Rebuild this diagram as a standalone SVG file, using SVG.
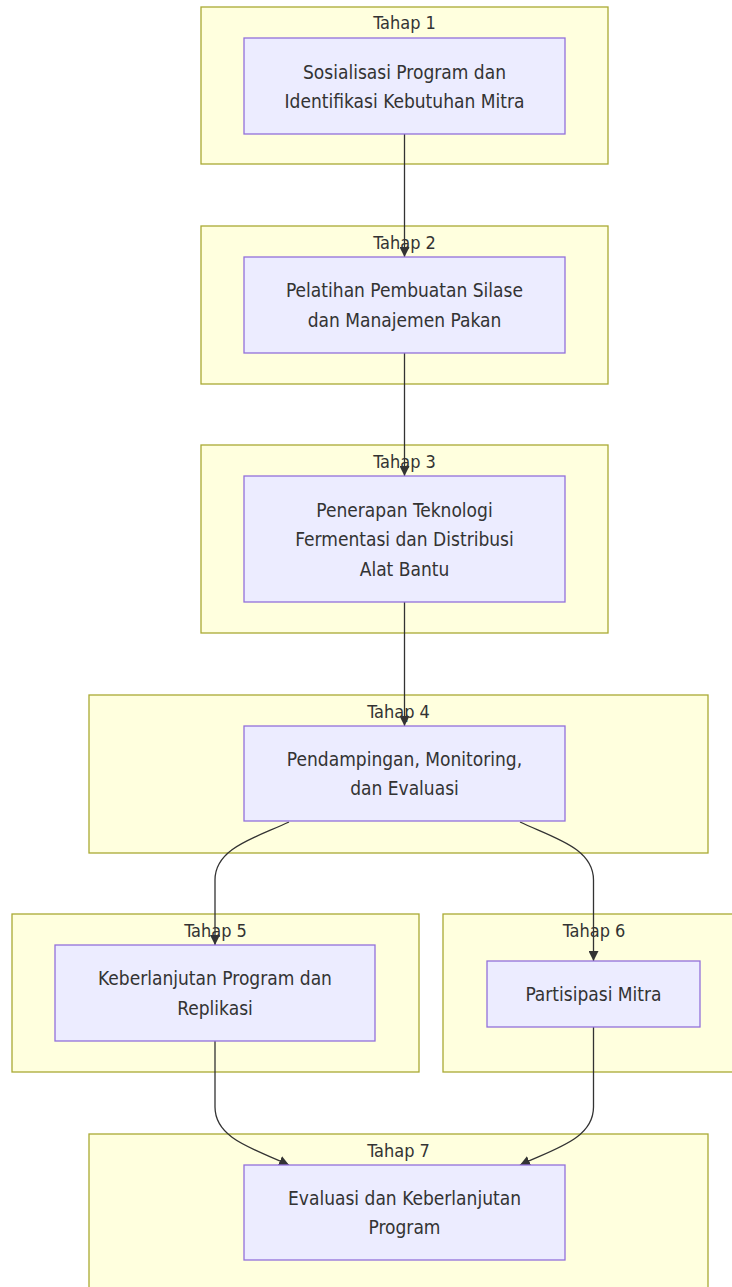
<svg xmlns="http://www.w3.org/2000/svg" width="732" height="1287" viewBox="0 0 732 1287">
<style>
.cluster rect{fill:#ffffde;stroke:#aaaa33;stroke-width:1.3}
.node rect{fill:#ececff;stroke:#9370db;stroke-width:1.3}
text{font-family:"DejaVu Sans Condensed","DejaVu Sans",sans-serif;fill:#333333;text-anchor:middle}
.ct{font-size:18px}
.nt{font-size:19px}
.edge{fill:none;stroke:#333333;stroke-width:1.3}
</style>
<defs>
<marker id="arrow" viewBox="0 0 10 10" refX="10" refY="5" markerUnits="userSpaceOnUse" markerWidth="10" markerHeight="10" orient="auto">
<path d="M0,0 L10,5 L0,10 z" fill="#333333"/>
</marker>
</defs>
<g id="clusters">
<g id="tahap1" class="cluster"><rect x="201" y="7" width="407" height="157"/><text class="ct" x="404.5" y="29">Tahap 1</text></g>
<g id="tahap2" class="cluster"><rect x="201" y="226" width="407" height="158"/><text class="ct" x="404.5" y="248.5">Tahap 2</text></g>
<g id="tahap3" class="cluster"><rect x="201" y="445" width="407" height="188"/><text class="ct" x="404.5" y="467.5">Tahap 3</text></g>
<g id="tahap4" class="cluster"><rect x="89" y="695" width="619" height="158"/><text class="ct" x="398.5" y="717.5">Tahap 4</text></g>
<g id="tahap5" class="cluster"><rect x="12" y="914" width="407" height="158"/><text class="ct" x="215.5" y="936.5">Tahap 5</text></g>
<g id="tahap6" class="cluster"><rect x="443" y="914" width="302" height="158"/><text class="ct" x="594" y="936.5">Tahap 6</text></g>
<g id="tahap7" class="cluster"><rect x="89" y="1134" width="619" height="160"/><text class="ct" x="398.5" y="1156.5">Tahap 7</text></g>
</g>
<g id="connectors">
<path class="edge" d="M404.5,134 L404.5,257" marker-end="url(#arrow)"/>
<path class="edge" d="M404.5,353 L404.5,476" marker-end="url(#arrow)"/>
<path class="edge" d="M404.5,602 L404.5,726" marker-end="url(#arrow)"/>
<path class="edge" d="M289,822 C255,838 215,848 215,880 L215,945" marker-end="url(#arrow)"/>
<path class="edge" d="M520,822 C554,838 593.5,848 593.5,880 L593.5,961" marker-end="url(#arrow)"/>
<path class="edge" d="M215,1041 L215,1107 C215,1139 255,1149 289,1165" marker-end="url(#arrow)"/>
<path class="edge" d="M593.5,1027 L593.5,1107 C593.5,1139 554,1149 520,1165" marker-end="url(#arrow)"/>
</g>
<g id="node1" class="node"><rect x="244" y="38" width="321" height="96"/><text class="nt"><tspan x="404.5" y="79">Sosialisasi Program dan</tspan><tspan x="404.5" y="108.3">Identifikasi Kebutuhan Mitra</tspan></text></g>
<g id="node2" class="node"><rect x="244" y="257" width="321" height="96"/><text class="nt"><tspan x="404.5" y="297.4">Pelatihan Pembuatan Silase</tspan><tspan x="404.5" y="326.7">dan Manajemen Pakan</tspan></text></g>
<g id="node3" class="node"><rect x="244" y="476" width="321" height="126"/><text class="nt"><tspan x="404.5" y="517">Penerapan Teknologi</tspan><tspan x="404.5" y="546.3">Fermentasi dan Distribusi</tspan><tspan x="404.5" y="575.6">Alat Bantu</tspan></text></g>
<g id="node4" class="node"><rect x="244" y="726" width="321" height="95"/><text class="nt"><tspan x="404.5" y="765.9">Pendampingan, Monitoring,</tspan><tspan x="404.5" y="795.2">dan Evaluasi</tspan></text></g>
<g id="node5" class="node"><rect x="55" y="945" width="320" height="96"/><text class="nt"><tspan x="215" y="985.4">Keberlanjutan Program dan</tspan><tspan x="215" y="1014.7">Replikasi</tspan></text></g>
<g id="node6" class="node"><rect x="487" y="961" width="213" height="66"/><text class="nt" x="593.5" y="1001">Partisipasi Mitra</text></g>
<g id="node7" class="node"><rect x="244" y="1165" width="321" height="95"/><text class="nt"><tspan x="404.5" y="1204.9">Evaluasi dan Keberlanjutan</tspan><tspan x="404.5" y="1234.2">Program</tspan></text></g>
</svg>
